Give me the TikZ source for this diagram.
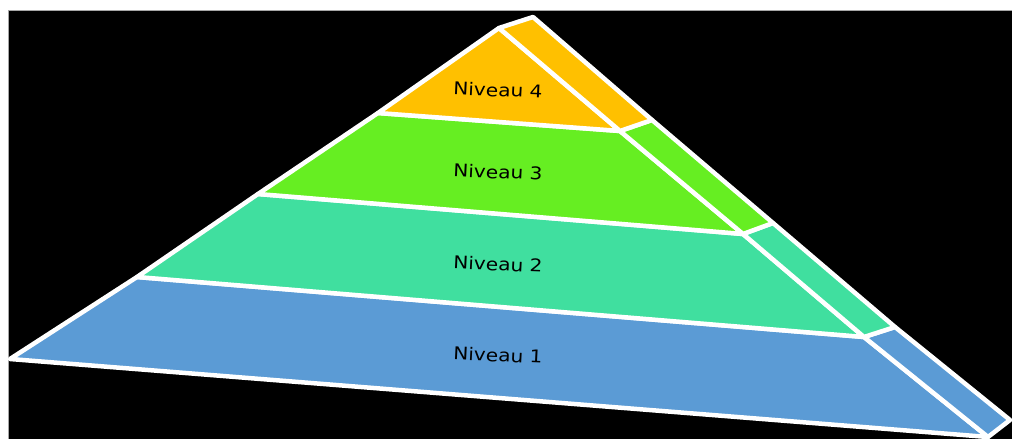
\documentclass[tikz,border=0pt]{standalone}
\usepackage{fontspec}
\setmainfont{DejaVu Sans}
\definecolor{lvlA}{HTML}{5B9BD5}
\definecolor{lvlB}{HTML}{40DF9F}
\definecolor{lvlC}{HTML}{66EE22}
\definecolor{lvlD}{HTML}{FFC000}
\tikzset{
  face/.style={draw=white, line width=4.5pt, line join=round},
  lbl/.style={font=\fontsize{17.5}{19}\selectfont, text=black, xscale=1.15, rotate=-2.5, inner sep=0pt}
}
\begin{document}
\begin{tikzpicture}[x=1pt,y=-1pt]
\useasboundingbox (0,0) rectangle (1012,439);
\fill[white] (0,0) rectangle (1012,439);
\fill[black] (8,10) rectangle (1012,439);
\draw[gray!70, line width=0.6pt] (8,439) -- (8,10) -- (1012,10);
% front face points
\coordinate (fL0) at (10,359);
\coordinate (fL1) at (137,277);
\coordinate (fL2) at (258,194);
\coordinate (fL3) at (378,113);
\coordinate (apx) at (499,28);
\coordinate (fR0) at (988,437);
\coordinate (fR1) at (864,337);
\coordinate (fR2) at (743,234);
\coordinate (fR3) at (620,131);
% back edge points
\coordinate (bR0) at (1010,420);
\coordinate (bR1) at (895,327);
\coordinate (bR2) at (773,223);
\coordinate (bR3) at (652,120);
\coordinate (bapx) at (533,17);
% front faces
\filldraw[face, fill=lvlA] (fL0) -- (fL1) -- (fR1) -- (fR0) -- cycle;
\filldraw[face, fill=lvlB] (fL1) -- (fL2) -- (fR2) -- (fR1) -- cycle;
\filldraw[face, fill=lvlC] (fL2) -- (fL3) -- (fR3) -- (fR2) -- cycle;
\filldraw[face, fill=lvlD] (fL3) -- (apx) -- (fR3) -- cycle;
% side faces
\filldraw[face, fill=lvlA] (fR1) -- (bR1) -- (bR0) -- (fR0) -- cycle;
\filldraw[face, fill=lvlB] (fR2) -- (bR2) -- (bR1) -- (fR1) -- cycle;
\filldraw[face, fill=lvlC] (fR3) -- (bR3) -- (bR2) -- (fR2) -- cycle;
\filldraw[face, fill=lvlD] (apx) -- (bapx) -- (bR3) -- (fR3) -- cycle;
% labels
\node[lbl] (n4) at (498,90) {Niveau 4};
\node[lbl] (n3) at (498,172) {Niveau 3};
\node[lbl] (n2) at (498,264) {Niveau 2};
\node[lbl] (n1) at (498,355) {Niveau 1};
\end{tikzpicture}
\end{document}
